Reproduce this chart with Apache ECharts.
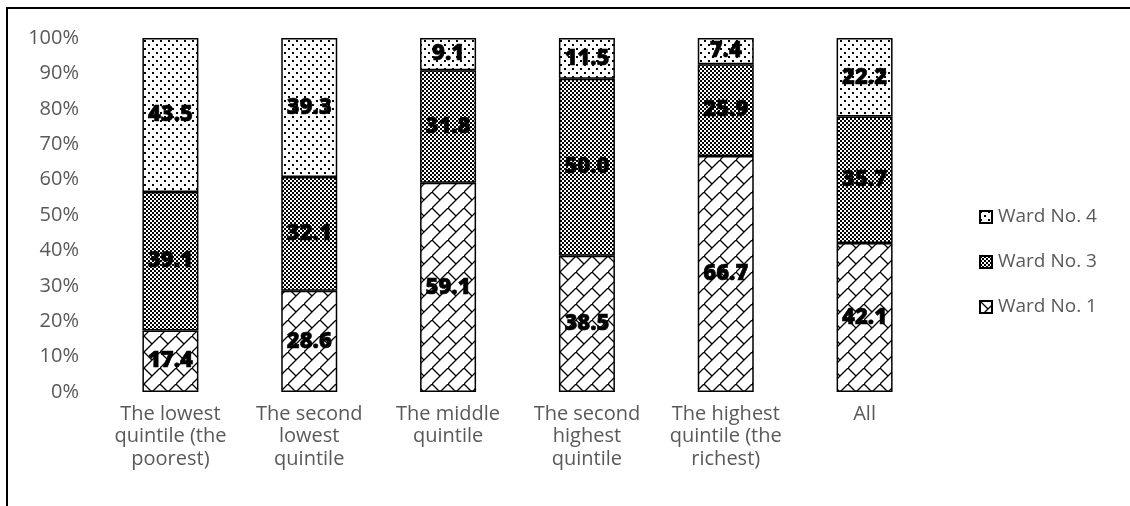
<!DOCTYPE html>
<html>
<head>
<meta charset="utf-8">
<script src="https://cdn.jsdelivr.net/npm/echarts@6/dist/echarts.min.js"></script>
<style>
  html, body { margin: 0; padding: 0; background: #fff; }
  #chart { width: 1130px; height: 506px; }
</style>
</head>
<body>
<div id="chart"></div>
<script>
// Wealth quintiles and ward shares (%)
const categories = [
  'The lowest\nquintile (the\npoorest)',
  'The second\nlowest\nquintile',
  'The middle\nquintile',
  'The second\nhighest\nquintile',
  'The highest\nquintile (the\nrichest)',
  'All'
];
const ward1 = [17.4, 28.6, 59.1, 38.5, 66.7, 42.1];
const ward3 = [39.1, 32.1, 31.8, 50.0, 25.9, 35.7];
const ward4 = [43.5, 39.3, 9.1, 11.5, 7.4, 22.2];
const yTicks = [0, 10, 20, 30, 40, 50, 60, 70, 80, 90, 100];

// Fill patterns drawn on small canvases
function tile(w, h, draw) {
  const c = document.createElement('canvas');
  c.width = w; c.height = h;
  const ctx = c.getContext('2d');
  ctx.fillStyle = '#fff';
  ctx.fillRect(0, 0, w, h);
  draw(ctx);
  return { image: c, repeat: 'repeat' };
}
const dotFill = tile(8, 8, ctx => {
  ctx.fillStyle = '#000';
  ctx.fillRect(0, 0, 2, 2);
  ctx.fillRect(4, 4, 2, 2);
});
const checkFill = tile(4, 4, ctx => {
  ctx.fillStyle = '#000';
  ctx.fillRect(0, 0, 2, 2);
  ctx.fillRect(2, 2, 2, 2);
});
const brickFill = tile(16, 16, ctx => {
  ctx.strokeStyle = '#000';
  ctx.lineWidth = 1.3;
  ctx.beginPath();
  ctx.moveTo(-2, 18); ctx.lineTo(18, -2);
  ctx.moveTo(0, 0); ctx.lineTo(8, 8);
  ctx.moveTo(16, 16); ctx.lineTo(18, 18);
  ctx.moveTo(-2, -2); ctx.lineTo(0, 0);
  ctx.stroke();
});

const textFont = 'Open Sans';
const labelStyle = {
  show: true,
  position: 'inside',
  formatter: p => p.value.toFixed(1),
  color: '#000',
  fontFamily: textFont,
  fontWeight: 800,
  fontSize: 22,
  textBorderColor: '#000',
  textBorderWidth: 0.6
};
function barSeries(name, data, fill) {
  return {
    name: name,
    type: 'bar',
    stack: 'total',
    data: data,
    barWidth: 56,
    itemStyle: { color: fill, borderColor: '#000', borderWidth: 1.5 },
    label: labelStyle
  };
}

const chart = echarts.init(document.getElementById('chart'));
chart.setOption({
  animation: false,
  backgroundColor: '#fff',
  graphic: [{
    type: 'rect',
    shape: { x: 7, y: 8, width: 1200, height: 600 },
    style: { fill: 'none', stroke: '#000', lineWidth: 2 },
    silent: true
  }],
  grid: { left: 101, top: 38, width: 833, height: 354 },
  legend: {
    orient: 'vertical',
    left: 974,
    top: 202,
    itemWidth: 12,
    itemHeight: 12,
    itemGap: 25,
    icon: 'rect',
    data: ['Ward No. 4', 'Ward No. 3', 'Ward No. 1'],
    textStyle: { color: '#595959', fontFamily: textFont, fontSize: 19, lineHeight: 20, padding: [0, 0, 0, 1] }
  },
  xAxis: {
    type: 'category',
    data: categories,
    axisLine: { show: false },
    axisTick: { show: false },
    axisLabel: {
      color: '#595959',
      fontFamily: textFont,
      fontSize: 20,
      lineHeight: 22.5,
      margin: 11,
      interval: 0
    }
  },
  yAxis: {
    type: 'value',
    min: 0,
    max: 100,
    interval: 10,
    splitLine: { show: false },
    axisLine: { show: false },
    axisTick: { show: false },
    axisLabel: {
      color: '#595959',
      fontFamily: textFont,
      fontSize: 20,
      margin: 22,
      formatter: v => (yTicks.indexOf(v) >= 0 ? v + '%' : '')
    }
  },
  series: [
    barSeries('Ward No. 1', ward1, brickFill),
    barSeries('Ward No. 3', ward3, checkFill),
    barSeries('Ward No. 4', ward4, dotFill)
  ]
});
</script>
</body>
</html>
